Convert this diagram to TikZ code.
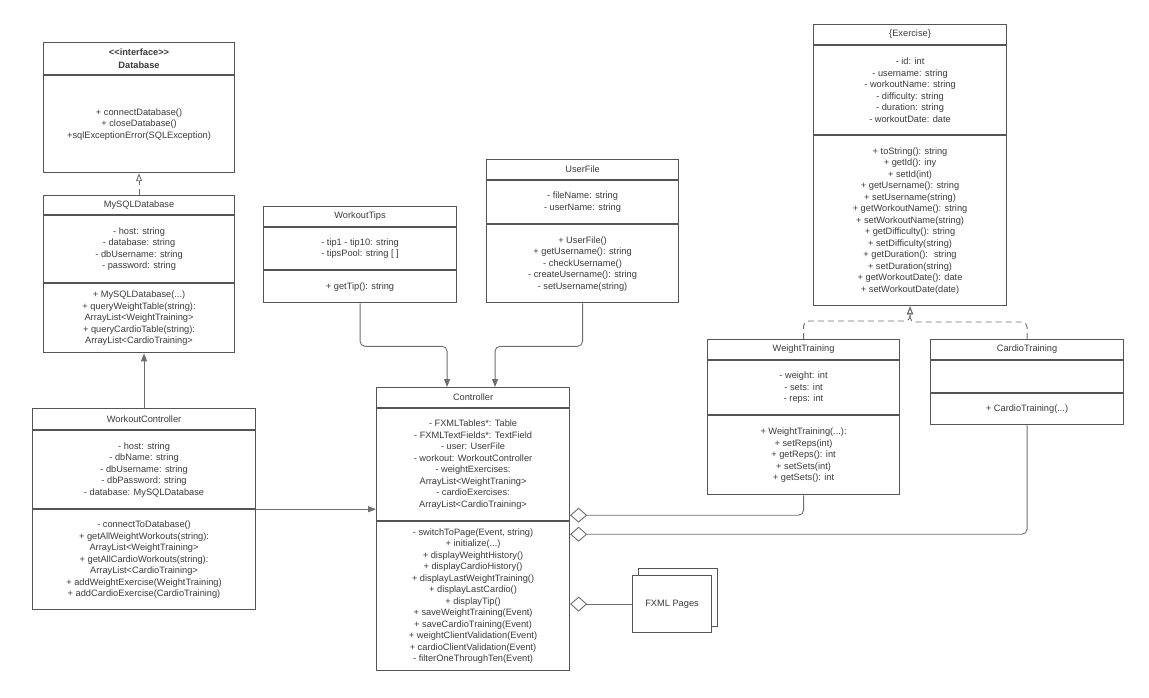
\documentclass[tikz,border=0pt]{standalone}
\usepackage{fontspec}
\setmainfont{Liberation Sans}
\usetikzlibrary{arrows.meta}
\definecolor{linec}{HTML}{555555}
\definecolor{textc}{HTML}{3A3A3A}
\definecolor{wirec}{HTML}{6E6E6E}
\newcommand{\umlfont}{\fontsize{9.25}{11.5}\selectfont}

\begin{document}
\begin{tikzpicture}[
    x=1pt, y=-1pt,
    part/.style={rectangle, draw=linec, line width=1.1pt, anchor=north west, inner sep=0pt, align=center, text=textc, font=\umlfont},
    realize/.style={draw=wirec, line width=0.9pt, dash pattern=on 6pt off 4pt, rounded corners=5pt, -{Triangle[open, length=8pt, width=6pt]}},
    assoc/.style={draw=wirec, line width=0.9pt, rounded corners=5pt, -{Triangle[length=8pt, width=6pt]}},
    aggr/.style={draw=wirec, line width=0.9pt, rounded corners=5pt, -{Diamond[open, fill=white, length=17pt, width=15pt]}}
]
\useasboundingbox (0,0) rectangle (1149,697);

% Database interface
\node[part, minimum width=191, minimum height=32, font=\umlfont\bfseries] (dbh) at (43,42) {<\kern0pt<interface>\kern0pt>\\[1.5pt]Database};
\node[part, minimum width=191, minimum height=97] (dbm) at (dbh.south west) {+ connectDatabase()\\+ closeDatabase()\\+sqlExceptionError(SQLException)};

% MySQLDatabase
\node[part, minimum width=191, minimum height=19] (sqlh) at (43,195) {MySQLDatabase};
\node[part, minimum width=191, minimum height=67] (sqla) at (sqlh.south west) {- host: string\\- database: string\\- dbUsername: string\\- password: string};
\node[part, minimum width=191, minimum height=69] (sqlm) at (sqla.south west) {+ MySQLDatabase(...)\\+ queryWeightTable(string):\\ArrayList<WeightTraining>\\+ queryCardioTable(string):\\ArrayList<CardioTraining>};

% WorkoutController
\node[part, minimum width=223, minimum height=21] (wch) at (32,408) {WorkoutController};
\node[part, minimum width=223, minimum height=78] (wca) at (wch.south west) {- host: string\\- dbName: string\\- dbUsername: string\\- dbPassword: string\\- database: MySQLDatabase};
\node[part, minimum width=223, minimum height=100] (wcm) at (wca.south west) {- connectToDatabase()\\+ getAllWeightWorkouts(string):\\ArrayList<WeightTraining>\\+ getAllCardioWorkouts(string):\\ArrayList<CardioTraining>\\+ addWeightExercise(WeightTraining)\\+ addCardioExercise(CardioTraining)};

% WorkoutTips
\node[part, minimum width=193, minimum height=20] (tipsh) at (263,206) {WorkoutTips};
\node[part, minimum width=193, minimum height=42] (tipsa) at (tipsh.south west) {- tip1 - tip10: string\\- tipsPool: string [ ]};
\node[part, minimum width=193, minimum height=32] (tipsm) at (tipsa.south west) {+ getTip(): string};

% UserFile
\node[part, minimum width=192, minimum height=20] (userh) at (486,159) {UserFile};
\node[part, minimum width=192, minimum height=43] (usera) at (userh.south west) {- fileName: string\\- userName: string};
\node[part, minimum width=192, minimum height=78] (userm) at (usera.south west) {+ UserFile()\\+ getUsername(): string\\- checkUsername()\\- createUsername(): string\\- setUsername(string)};

% Controller
\node[part, minimum width=193, minimum height=20] (ctrlh) at (376,387) {Controller};
\node[part, minimum width=193, minimum height=112] (ctrla) at (ctrlh.south west) {- FXMLTables*: Table\\- FXMLTextFields*: TextField\\- user: UserFile\\- workout: WorkoutController\\- weightExercises:\\ArrayList<WeightTraning>\\- cardioExercises:\\ArrayList<CardioTraining>};
\node[part, minimum width=193, minimum height=149] (ctrlm) at (ctrla.south west) {- switchToPage(Event, string)\\+ initialize(...)\\+ displayWeightHistory()\\+ displayCardioHistory()\\+ displayLastWeightTraining()\\+ displayLastCardio()\\+ displayTip()\\+ saveWeightTraining(Event)\\+ saveCardioTraining(Event)\\+ weightClientValidation(Event)\\+ cardioClientValidation(Event)\\- filterOneThroughTen(Event)};

% Exercise
\node[part, minimum width=193, minimum height=20] (exh) at (813,24) {\{Exercise\}};
\node[part, minimum width=193, minimum height=89] (exa) at (exh.south west) {- id: int\\- username: string\\- workoutName: string\\- difficulty: string\\- duration: string\\- workoutDate: date};
\node[part, minimum width=193, minimum height=170] (exm) at (exa.south west) {+ toString(): string\\+ getId(): iny\\+ setId(int)\\+ getUsername(): string\\+ setUsername(string)\\+ getWorkoutName(): string\\+ setWorkoutName(string)\\+ getDifficulty(): string\\+ setDifficulty(string)\\+ getDuration():~ string\\+ setDuration(string)\\+ getWorkoutDate(): date\\+ setWorkoutDate(date)};

% WeightTraining
\node[part, minimum width=192, minimum height=20] (wth) at (707,339) {WeightTraining};
\node[part, minimum width=192, minimum height=54] (wta) at (wth.south west) {- weight: int\\- sets: int\\- reps: int};
\node[part, minimum width=192, minimum height=79] (wtm) at (wta.south west) {+ WeightTraining(...):\\+ setReps(int)\\+ getReps(): int\\+ setSets(int)\\+ getSets(): int};

% CardioTraining
\node[part, minimum width=193, minimum height=20] (cth) at (930,339) {CardioTraining};
\node[part, minimum width=193, minimum height=32] (cta) at (cth.south west) {};
\node[part, minimum width=193, minimum height=31] (ctm) at (cta.south west) {+ CardioTraining(...)};

% FXML pages (stacked)
\node[part, fill=white, minimum width=79, minimum height=58] (fxmlb) at (638,568) {};
\node[part, fill=white, minimum width=79, minimum height=57] (fxml) at (632,575) {FXML Pages};

% Connectors
\draw[realize] (sqlh.north) -- (dbm.south);
\draw[assoc] (wch.north) -- (wch.north |- sqlm.south);
\draw[assoc] (wcm.north east) -- (wcm.north east -| ctrla.west);
\draw[assoc] (tipsm.south) -- ++(0,43) -| ([xshift=-26pt]ctrlh.north);
\draw[assoc] (userm.south) -- ++(0,43) -| ([xshift=22pt]ctrlh.north);
\draw[aggr] (wtm.south) |- ([yshift=6pt]ctrla.south east);
\draw[aggr] (ctm.south) |- ([yshift=-13pt]ctrla.south east);
\draw[aggr] (fxml.west) -- (fxml.west -| ctrlm.east);
\draw[realize] (wth.north) -- ++(0,-18) -| (exm.south);
\draw[realize] (cth.north) -- ++(0,-17) -| (exm.south);

\end{tikzpicture}
\end{document}
